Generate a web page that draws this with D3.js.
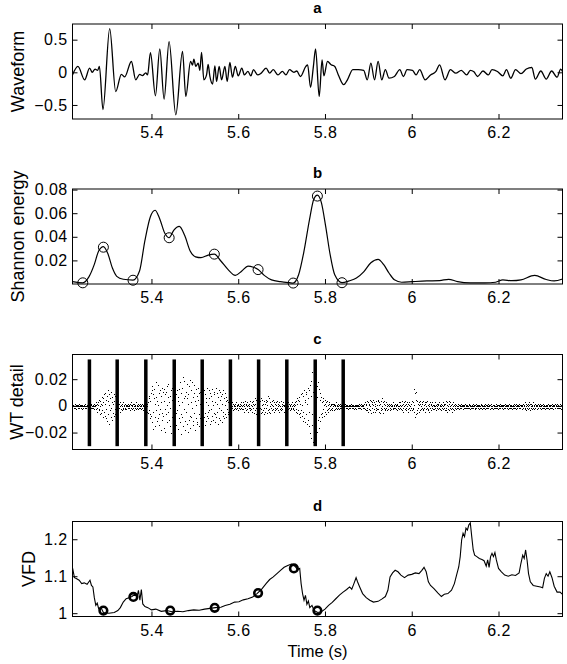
<!DOCTYPE html>
<html>
<head>
<meta charset="utf-8">
<script src="https://cdn.jsdelivr.net/npm/d3@7"></script>
<style>
body { margin: 0; background: #fff; }
text { font-family: "Liberation Sans", Arial, Helvetica, sans-serif; }
</style>
</head>
<body>
<svg id="chart" width="567" height="664"></svg>
<script>
// ---- data ----
const xDomain = [5.218, 6.3475];
const xTicks = [5.4, 5.6, 5.8, 6, 6.2];

// a: waveform, [time, value] at the turning points
const waveform = [
  [5.218,-0.04],[5.2305,0.09],[5.246,-0.115],[5.2575,0.065],[5.2635,0.0],[5.270,0.05],[5.276,0.03],[5.280,0.09],
  [5.2882,-0.57],[5.3037,0.67],[5.3176,-0.295],[5.3307,-0.03],[5.3383,-0.07],[5.3538,0.166],[5.3637,-0.115],
  [5.373,-0.03],[5.3792,-0.05],[5.3868,-0.01],[5.391,-0.04],[5.3977,0.30],[5.4092,-0.36],[5.4192,0.36],
  [5.4291,-0.41],[5.4406,0.47],[5.4561,-0.65],[5.4716,0.32],[5.4792,-0.37],[5.4901,0.166],[5.4947,0.11],
  [5.4977,0.2],[5.5023,0.09],[5.5076,0.14],[5.5115,0.03],[5.5155,0.305],[5.5208,-0.115],[5.527,-0.04],
  [5.5307,0.12],[5.5346,-0.06],[5.5409,-0.18],[5.5462,0.1],[5.5501,-0.14],[5.5561,0.09],[5.5617,-0.115],
  [5.5693,0.09],[5.5746,-0.14],[5.5808,0.15],[5.5867,-0.075],[5.5933,0.09],[5.6,-0.054],[5.6083,0.064],
  [5.6142,-0.04],[5.6225,0.013],[5.6292,-0.054],[5.635,0.04],[5.645,-0.04],[5.6517,-0.02],[5.6642,0.064],
  [5.6725,-0.013],[5.6808,0.04],[5.6917,-0.04],[5.7017,0.013],[5.71,-0.04],[5.7183,0.04],[5.7283,0.0],
  [5.735,0.02],[5.7433,-0.064],[5.7558,0.09],[5.76,0.115],[5.7667,-0.23],[5.7733,0.09],[5.7783,0.36],
  [5.7867,-0.37],[5.7933,0.19],[5.7975,-0.054],[5.8058,0.167],[5.8142,0.115],[5.8225,0.09],[5.8308,-0.04],
  [5.8433,-0.19],[5.8517,-0.115],[5.8642,0.04],[5.8767,0.04],[5.8892,0.03],[5.8975,-0.115],[5.9058,0.14],
  [5.9142,-0.115],[5.9225,0.167],[5.9308,-0.115],[5.9392,0.04],[5.9475,-0.09],[5.96,-0.064],[5.9725,0.04],
  [5.9808,-0.064],[5.9892,0.04],[6.0017,0.03],[6.01,-0.04],[6.0183,0.04],[6.0308,-0.115],[6.0433,-0.04],
  [6.0558,0.013],[6.0642,0.115],[6.0767,-0.115],[6.0892,0.04],[6.1017,-0.013],[6.1142,0.03],[6.1267,-0.04],
  [6.135,0.03],[6.1433,0.008],[6.1517,-0.064],[6.1642,0.02],[6.1767,-0.04],[6.185,0.04],[6.1975,0.013],
  [6.21,-0.054],[6.2183,0.04],[6.2283,-0.09],[6.2392,0.04],[6.2517,-0.02],[6.2642,0.05],[6.2767,0.074],
  [6.285,-0.105],[6.2975,0.02],[6.31,-0.105],[6.3225,0.02],[6.335,-0.075],[6.3433,0.05],[6.3475,0.013]
];

// b: Shannon energy envelope knots and the marked points
const shannon = [
  [5.2183,0.002],[5.2417,0.0010],[5.2558,0.006],[5.2683,0.0166],[5.2783,0.028],[5.2892,0.0317],[5.2992,0.026],
  [5.31,0.0135],[5.32,0.0065],[5.335,0.004],[5.3575,0.0033],[5.3725,0.011],[5.385,0.037],[5.3975,0.057],
  [5.4083,0.0625],[5.4183,0.056],[5.4308,0.043],[5.4408,0.0392],[5.4517,0.0457],[5.4642,0.0488],[5.4767,0.041],
  [5.4892,0.028],[5.5017,0.023],[5.5142,0.0223],[5.5308,0.0245],[5.545,0.0253],[5.56,0.0195],[5.5767,0.0122],
  [5.5933,0.0073],[5.6083,0.011],[5.6225,0.0152],[5.635,0.0142],[5.6458,0.0122],[5.66,0.0073],[5.6767,0.0035],
  [5.6975,0.002],[5.7183,0.0011],[5.7267,0.0008],[5.7392,0.0078],[5.7517,0.028],[5.7642,0.0544],[5.7742,0.0719],
  [5.7825,0.0753],[5.7917,0.069],[5.8017,0.0486],[5.8117,0.0253],[5.8225,0.0078],[5.8392,0.0011],[5.8558,0.0026],
  [5.8725,0.005],[5.8892,0.0102],[5.9058,0.018],[5.9225,0.0209],[5.935,0.0166],[5.9475,0.0093],[5.96,0.0035],
  [5.9767,0.0015],[6.0017,0.002],[6.035,0.0026],[6.0642,0.0029],[6.085,0.004],[6.1058,0.002],[6.135,0.001],
  [6.1683,0.001],[6.1933,0.0015],[6.21,0.0035],[6.2308,0.0028],[6.2517,0.0035],[6.2833,0.0073],[6.31,0.0038],
  [6.3283,0.0026],[6.3475,0.0042]
];
const shannonMarks = [
  [5.2417,0.001],[5.2892,0.0312],[5.3575,0.0032],[5.4408,0.0392],[5.545,0.0253],
  [5.6458,0.0122],[5.7267,0.0008],[5.7825,0.0745],[5.8392,0.0011]
];

// c: wavelet detail samples (units of 0.001), uniform sampling from wtStart
const wtStart = 5.218;
const wtStep = 0.026 / 30;
const wtDetail = [
  0,1,-1,0,2,-1,0,1,0,-2,1,0,-1,1,0,2,-1,0,0,1,-1,0,1,-2,0,1,0,-1,1,0,
  1,0,-1,2,0,-1,1,0,0,-1,1,-2,0,1,0,-1,0,2,-1,1,0,-1,0,1,-1,0,2,-2,1,0,
  1,-2,3,-1,2,-4,1,3,-3,5,-2,0,4,-6,2,-5,7,1,-3,6,-8,3,9,-4,2,-7,10,-2,5,-9,
  8,-11,4,12,-6,1,-13,9,-3,6,-8,11,-1,3,-10,7,-5,2,9,-7,4,-2,8,-6,1,5,-4,3,-8,2,
  -3,4,-1,2,-4,0,3,-2,1,-3,2,0,-1,3,-2,1,0,-2,2,-1,0,1,-2,1,0,-1,2,0,-1,1,
  0,2,-3,1,-1,3,0,-2,1,2,-1,0,-3,2,1,-1,0,3,-2,1,0,-1,2,-2,0,1,-1,0,2,-1,
  1,-2,0,2,-1,0,1,-3,2,0,-1,1,0,-2,3,-1,0,2,-4,3,-5,6,-3,8,-6,4,-9,10,-7,12,
  -12,15,-4,9,-17,6,13,-8,2,-15,18,-3,7,-11,4,16,-9,1,-14,10,-6,12,-2,-18,8,3,-10,14,-5,11,
  -7,13,-16,4,9,-2,-19,11,-6,15,1,-12,7,-4,17,-10,3,-15,8,-1,12,-20,5,-8,14,-3,10,-13,6,-9,
  2,-11,16,-5,9,-14,12,-3,7,-17,4,13,-9,1,-12,18,-6,10,-21,3,14,-8,22,-15,6,-2,19,-11,8,-18,
  11,-4,17,-13,6,-19,9,2,-10,15,-7,20,-16,3,12,-8,18,-1,-14,7,-11,16,-5,10,-18,4,13,-9,1,-12,
  8,-13,5,14,-6,10,-15,2,11,-9,4,-12,15,-3,7,-10,13,-1,-8,12,-5,9,-14,6,3,-11,14,-7,1,-4,
  -9,12,-3,6,-13,10,-2,8,-11,4,13,-7,1,-10,11,-5,9,-12,3,-6,14,-8,2,-4,10,-13,7,-1,12,-9,
  5,-10,11,-3,8,-12,2,9,-7,12,-4,6,-9,1,10,-6,4,-8,7,-2,5,-6,3,-4,6,-1,2,-5,4,-3,
  1,-2,3,0,-1,2,-3,1,0,-2,2,-1,0,3,-2,1,-1,0,2,-3,1,0,-1,2,-2,0,1,-1,3,-2,
  0,3,-2,1,-4,2,0,-1,4,-3,1,2,-2,0,3,-4,1,-1,2,0,-3,4,-1,1,-2,3,0,-4,2,-1,
  4,-5,1,6,-3,2,-6,5,-1,3,-4,7,-2,0,5,-6,3,-1,4,-5,6,-2,1,-4,5,-3,2,-6,4,-1,
  2,-4,5,-1,3,-5,1,4,-3,8,-2,6,-4,0,3,-5,2,-1,4,-3,1,5,-2,0,-4,3,-1,2,-3,1,
  -2,3,-1,4,-3,0,2,-4,1,3,-2,0,-1,4,-3,2,0,-2,1,3,-4,1,0,-1,2,-3,4,-1,0,2,
  1,-2,0,3,-1,2,-3,0,1,-1,2,-2,0,3,-1,1,-2,0,2,-3,1,3,-2,4,-4,2,-5,6,-3,5,
  -6,4,7,-8,2,-5,9,-3,10,-7,1,-11,8,-4,12,-9,5,-12,3,11,-6,9,-13,2,14,-10,6,-15,12,-4,
  16,-20,8,-24,19,-6,26,-14,11,-27,4,22,-17,9,-12,24,-25,3,15,-19,7,-10,18,-8,13,-16,5,-11,10,-6,
  7,-8,3,-5,6,-2,4,-7,1,5,-4,2,-6,3,0,-3,4,-2,1,-4,3,-1,2,-3,0,2,-2,1,-3,2,
  -1,2,0,-3,1,2,-2,0,1,-1,3,-2,0,1,-1,2,0,-2,1,0,-1,2,-1,0,1,-2,0,1,-1,0,
  1,0,-1,0,2,-1,0,1,-1,0,1,-2,0,1,0,-1,1,0,-1,2,0,-1,0,1,-1,0,1,0,-2,1,
  0,-1,1,0,-2,1,0,1,-1,0,2,-1,0,-1,1,0,2,-2,1,0,-1,1,0,-1,2,-1,3,-2,1,-3,
  2,-3,4,-1,3,-4,1,2,-2,5,-3,0,4,-5,2,-1,3,-4,1,5,-2,3,-4,0,2,-3,4,-1,1,-2,
  4,-2,5,-4,1,3,-5,2,-1,4,-3,6,-2,0,3,-5,4,-1,2,-3,1,-2,3,-1,2,-3,0,1,-2,1,
  0,2,-1,1,-3,0,2,-2,1,0,-1,3,-2,1,0,-1,2,-1,0,1,-2,2,-3,1,0,-1,3,-2,0,1,
  -1,3,-2,0,4,-3,1,-1,2,-4,3,0,-2,1,4,-3,2,-1,0,3,-4,2,-2,1,3,-1,0,-3,2,-1,
  2,-3,4,-1,3,-2,1,-4,13,-8,10,-6,11,5,-3,4,-5,2,-1,3,-4,1,2,-3,4,-2,0,3,-1,2,
  -2,4,-3,1,-1,3,-4,2,0,-2,3,-1,4,-3,1,-2,2,0,-4,3,-1,1,-3,2,0,-1,3,-2,1,0,
  1,-2,0,3,-1,1,-3,2,0,-1,2,-2,1,3,-1,0,-2,1,2,-3,0,1,-1,3,-2,0,2,-1,1,-3,
  2,-3,4,-1,1,-4,3,0,-2,2,-3,4,-1,0,3,-2,1,-4,2,-1,3,0,-2,1,-3,2,0,-1,1,-2,
  1,0,-1,2,0,-1,1,-2,0,1,-1,0,2,-1,0,1,-2,1,0,-1,1,0,-1,2,-1,0,1,-1,0,1,
  -1,0,1,-1,2,0,-2,1,0,-1,1,0,-1,2,-1,0,1,0,-2,1,-1,0,2,-1,0,1,-1,0,1,-2,
  0,1,-1,0,2,-1,1,0,-2,1,0,-1,1,-1,0,2,-2,0,1,-1,0,1,-1,2,0,-1,1,0,-2,1,
  1,-1,0,2,-1,0,1,-2,1,0,-1,1,0,-1,2,0,-1,1,-1,0,1,-2,0,1,-1,0,2,-1,0,1,
  -1,1,0,-2,1,0,1,-1,0,2,-1,1,0,-1,0,1,-2,1,0,-1,2,-1,0,1,0,-1,1,-2,0,1,
  0,-1,2,-1,0,1,-1,0,2,-2,1,0,-1,1,0,-1,2,0,-1,1,-1,0,1,-2,1,0,-1,2,-1,0,
  1,-2,3,-1,0,2,-3,1,-1,2,0,-2,3,-1,1,-3,2,0,-1,2,-2,1,0,-1,3,-2,1,0,-1,2,
  -1,0,1,-2,1,0,-1,2,-1,0,1,-1,0,2,-2,1,0,-1,1,0,-1,2,0,-1,1,-2,0,1,-1,0,
  1,-1,0,2,-1,1,0,-2,1,-1,0,1,-1,2,0,-1,1,-2,0,1,0,-1,2,-1,0,1,-1,0,2,-1,
  0,1,-1,0,2,-1,0,1,-2,1,0,-1
];
const segmentTimes = [5.257, 5.321, 5.387, 5.4525, 5.517, 5.582, 5.647, 5.712, 5.7775, 5.842];
const segmentSpan = [-0.0302, 0.0348];

// d: VFD
const vfd = [
  [5.2183,1.121],[5.2225,1.096],[5.2267,1.094],[5.2333,1.089],[5.2392,1.08],[5.245,1.082],[5.2517,1.078],
  [5.2558,1.085],[5.2583,1.089],[5.2617,1.075],[5.265,1.071],[5.2683,1.042],[5.2717,1.021],[5.275,1.027],
  [5.2783,1.012],[5.2833,1.016],[5.2892,1.002],[5.3017,1.0],[5.3142,1.002],[5.3225,1.007],[5.3283,1.015],
  [5.335,1.03],[5.3417,1.039],[5.3483,1.042],[5.355,1.045],[5.3617,1.051],[5.3667,1.044],[5.37,1.062],
  [5.3733,1.035],[5.3767,1.064],[5.38,1.025],[5.385,1.018],[5.3917,1.015],[5.4,1.009],[5.41,1.011],
  [5.4225,1.005],[5.435,1.007],[5.4475,1.004],[5.46,1.005],[5.4725,1.004],[5.485,1.007],[5.4975,1.009],
  [5.51,1.008],[5.5225,1.011],[5.535,1.013],[5.5475,1.015],[5.56,1.016],[5.57,1.021],[5.5808,1.024],
  [5.5917,1.03],[5.6017,1.031],[5.6117,1.036],[5.6225,1.039],[5.6333,1.044],[5.6433,1.053],[5.6533,1.064],
  [5.6642,1.08],[5.6725,1.091],[5.6808,1.098],[5.6892,1.107],[5.6975,1.116],[5.7058,1.124],[5.7142,1.129],
  [5.7225,1.133],[5.7308,1.127],[5.7367,1.118],[5.7417,1.121],[5.745,1.08],[5.7483,1.053],[5.7517,1.035],
  [5.755,1.048],[5.7583,1.024],[5.7617,1.033],[5.765,1.015],[5.77,1.021],[5.775,1.007],[5.7833,1.002],
  [5.7917,1.004],[5.8,1.011],[5.8083,1.021],[5.8167,1.029],[5.825,1.039],[5.8333,1.049],[5.8417,1.057],
  [5.85,1.064],[5.8567,1.071],[5.8617,1.065],[5.8667,1.08],[5.8717,1.096],[5.875,1.085],[5.88,1.071],
  [5.8867,1.053],[5.895,1.042],[5.9033,1.035],[5.9117,1.03],[5.9225,1.032],[5.9308,1.038],[5.9392,1.045],
  [5.945,1.062],[5.95,1.098],[5.9558,1.109],[5.9617,1.116],[5.9683,1.112],[5.975,1.103],[5.9833,1.096],
  [5.9917,1.103],[6.0,1.105],[6.0083,1.109],[6.0167,1.107],[6.0233,1.116],[6.0283,1.124],[6.0333,1.112],
  [6.0383,1.085],[6.0433,1.075],[6.0517,1.066],[6.06,1.055],[6.0683,1.045],[6.075,1.051],[6.0833,1.053],
  [6.0917,1.062],[6.0983,1.08],[6.1033,1.103],[6.1083,1.125],[6.1117,1.153],[6.115,1.198],[6.1183,1.216],
  [6.1217,1.207],[6.125,1.23],[6.1283,1.225],[6.1317,1.239],[6.135,1.244],[6.1383,1.207],[6.1417,1.171],
  [6.145,1.157],[6.15,1.153],[6.1558,1.148],[6.1617,1.145],[6.1667,1.142],[6.1717,1.127],[6.175,1.144],
  [6.1783,1.124],[6.1817,1.153],[6.185,1.162],[6.1883,1.153],[6.1917,1.164],[6.195,1.144],[6.2,1.121],
  [6.2067,1.112],[6.2142,1.103],[6.2225,1.1],[6.2308,1.104],[6.2392,1.102],[6.2475,1.109],[6.2517,1.135],
  [6.2558,1.157],[6.2592,1.148],[6.2625,1.171],[6.2658,1.144],[6.2692,1.107],[6.2733,1.085],[6.28,1.075],
  [6.2883,1.073],[6.2967,1.071],[6.3017,1.069],[6.3058,1.094],[6.31,1.107],[6.3142,1.1],[6.3183,1.112],
  [6.3233,1.096],[6.3283,1.073],[6.335,1.057],[6.3417,1.057],[6.3475,1.051]
];
const vfdMarks = [
  [5.2892,1.007],[5.3583,1.044],[5.4433,1.007],[5.5458,1.0145],[5.6458,1.0545],[5.7283,1.121],[5.7825,1.007]
];

// ---- layout ----
const svg = d3.select('#chart');
const margin = {left: 72.5, right: 4.5};
const innerWidth = 567 - margin.left - margin.right;
const panelHeight = 95;
const tickFont = 16;
const labelFont = 18;
const fmt = d3.format('~g');

const x = d3.scaleLinear().domain(xDomain).range([0, innerWidth]);

const panel = (top, yDomain, yTicks, title, ylabel, ylabelX) => {
    const g = svg.append('g').attr('transform', 'translate(' + margin.left + ',' + top + ')');
    const y = d3.scaleLinear().domain(yDomain).range([panelHeight, 0]);

    g.append('clipPath').attr('id', 'clip-' + title)
        .append('rect').attr('width', innerWidth).attr('height', panelHeight);

    const styleAxis = a => a.attr('font-size', tickFont).attr('font-family', null)
        .call(s => s.select('.domain').remove())
        .call(s => s.selectAll('.tick line').attr('stroke', '#000'))
        .call(s => s.selectAll('.tick text').attr('fill', '#000').attr('letter-spacing', 0.4));
    // top and right: tick marks only
    const marksOnly = a => a.call(styleAxis).call(s => s.selectAll('.tick text').remove());

    g.append('g').attr('transform', 'translate(0,' + panelHeight + ')')
        .call(d3.axisBottom(x).tickValues(xTicks).tickSize(-5).tickPadding(8).tickFormat(fmt))
        .call(styleAxis);
    g.append('g')
        .call(d3.axisTop(x).tickValues(xTicks).tickSize(-5))
        .call(marksOnly);
    g.append('g')
        .call(d3.axisLeft(y).tickValues(yTicks).tickSize(-5).tickPadding(5).tickFormat(fmt))
        .call(styleAxis);
    g.append('g').attr('transform', 'translate(' + innerWidth + ',0)')
        .call(d3.axisRight(y).tickValues(yTicks).tickSize(-5))
        .call(marksOnly);

    g.append('rect')
        .attr('width', innerWidth).attr('height', panelHeight)
        .attr('fill', 'none').attr('stroke', '#000').attr('stroke-width', 1);

    g.append('text')
        .attr('x', innerWidth / 2).attr('y', -11)
        .attr('text-anchor', 'middle').attr('font-weight', 'bold').attr('font-size', 15)
        .text(title);

    // rotated y label: rotation on a wrapper group
    svg.append('g')
        .attr('transform', 'translate(' + ylabelX + ',' + (top + panelHeight / 2) + ') rotate(-90)')
        .append('text')
        .attr('text-anchor', 'middle').attr('font-size', labelFont)
        .text(ylabel);

    const plot = g.append('g').attr('clip-path', 'url(#clip-' + title + ')');
    return {g, plot, y};
};

// a
const pa = panel(24, [-0.715, 0.74], [-0.5, 0, 0.5], 'a', 'Waveform', 24);
pa.plot.append('path').datum(waveform)
    .attr('d', d3.line().x(d => x(d[0])).y(d => pa.y(d[1])).curve(d3.curveMonotoneX))
    .attr('fill', 'none').attr('stroke', '#000').attr('stroke-width', 1.3);

// b
const pb = panel(189, [0, 0.0805], [0.02, 0.04, 0.06, 0.08], 'b', 'Shannon energy', 24);
pb.plot.append('path').datum(shannon)
    .attr('d', d3.line().x(d => x(d[0])).y(d => pb.y(d[1])).curve(d3.curveMonotoneX))
    .attr('fill', 'none').attr('stroke', '#000').attr('stroke-width', 1.2);
pb.g.selectAll('circle.mark').data(shannonMarks).enter().append('circle')
    .attr('class', 'mark')
    .attr('cx', d => x(d[0])).attr('cy', d => pb.y(d[1])).attr('r', 5)
    .attr('fill', 'none').attr('stroke', '#000').attr('stroke-width', 1);

// c
const pc = panel(354.5, [-0.0327, 0.0385], [-0.02, 0, 0.02], 'c', 'WT detail', 23);
pc.plot.selectAll('rect.seg').data(segmentTimes).enter().append('rect')
    .attr('class', 'seg')
    .attr('x', d => x(d) - 1.75).attr('width', 3.5)
    .attr('y', pc.y(segmentSpan[1]))
    .attr('height', pc.y(segmentSpan[0]) - pc.y(segmentSpan[1]))
    .attr('fill', '#000');
pc.plot.selectAll('rect.dot').data(wtDetail).enter().append('rect')
    .attr('class', 'dot')
    .attr('x', (d, i) => Math.round(x(wtStart + i * wtStep)))
    .attr('y', d => Math.round(pc.y(d * 0.001)))
    .attr('width', 1).attr('height', 1)
    .attr('shape-rendering', 'crispEdges')
    .attr('fill', '#000');

// d
const pd = panel(521.5, [0.991, 1.248], [1, 1.1, 1.2], 'd', 'VFD', 35);
pd.plot.append('path').datum(vfd)
    .attr('d', d3.line().x(d => x(d[0])).y(d => pd.y(d[1])))
    .attr('fill', 'none').attr('stroke', '#000').attr('stroke-width', 1.1);
pd.g.selectAll('circle.mark').data(vfdMarks).enter().append('circle')
    .attr('class', 'mark')
    .attr('cx', d => x(d[0])).attr('cy', d => pd.y(d[1])).attr('r', 3.8)
    .attr('fill', 'none').attr('stroke', '#000').attr('stroke-width', 2.6);

svg.append('text')
    .attr('x', margin.left + innerWidth / 2).attr('y', 657)
    .attr('text-anchor', 'middle').attr('font-size', 16.5)
    .text('Time (s)');
</script>
</body>
</html>
